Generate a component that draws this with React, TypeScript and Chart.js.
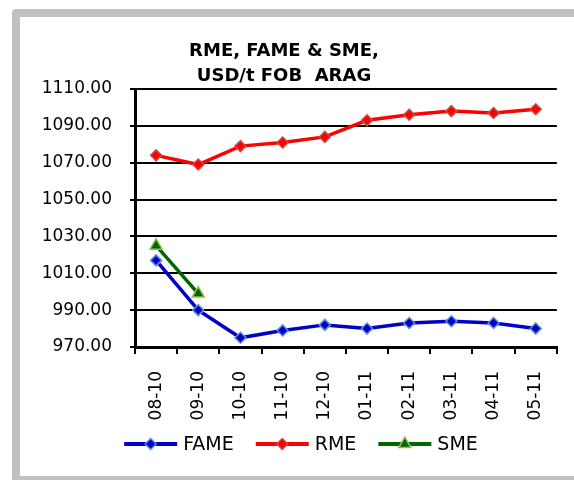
import React, { useEffect, useRef } from 'react';
import { Chart, registerables } from 'chart.js';

Chart.register(...registerables);

const categories = ['08-10', '09-10', '10-10', '11-10', '12-10', '01-11', '02-11', '03-11', '04-11', '05-11'];
const fameValues = [1017, 990, 975, 979, 982, 980, 983, 984, 983, 980];
const rmeValues = [1074, 1069, 1079, 1081, 1084, 1093, 1096, 1098, 1097, 1099];
const smeValues: (number | null)[] = [1025, 999, null, null, null, null, null, null, null, null];
const titleLines = ['RME, FAME & SME,', 'USD/t FOB  ARAG'];
const yMin = 970;
const yMax = 1110;
const yStep = 20;

const FONT = '"DejaVu Sans", sans-serif';

function drawMarker(ctx: CanvasRenderingContext2D, style: string, x: number, y: number, r: number, fill: string, stroke: string, bw: number) {
  ctx.beginPath();
  if (style === 'triangle') {
    ctx.moveTo(x, y - r);
    ctx.lineTo(x + r * Math.sin(Math.PI / 3), y + r * 0.5);
    ctx.lineTo(x - r * Math.sin(Math.PI / 3), y + r * 0.5);
  } else {
    ctx.moveTo(x, y - r);
    ctx.lineTo(x + r, y);
    ctx.lineTo(x, y + r);
    ctx.lineTo(x - r, y);
  }
  ctx.closePath();
  ctx.fillStyle = fill;
  ctx.fill();
  ctx.lineWidth = bw;
  ctx.strokeStyle = stroke;
  ctx.stroke();
}

const decorPlugin = {
  id: 'decor',
  afterDraw(chart: any) {
    const ctx: CanvasRenderingContext2D = chart.ctx;
    ctx.save();
    // title
    ctx.fillStyle = '#000';
    ctx.font = `bold 18px ${FONT}`;
    ctx.textAlign = 'center';
    ctx.textBaseline = 'alphabetic';
    const tx = 264;
    ctx.fillText(titleLines[0], tx, 39);
    ctx.fillText(titleLines[1], tx, 64);

    // legend
    ctx.font = `19px ${FONT}`;
    ctx.textBaseline = 'middle';
    ctx.textAlign = 'left';
    const lineLen = 53;
    const gapText = 6;
    const gapItem = 22;
    const items = chart.data.datasets.map((ds: any) => ({
      ds,
      w: ctx.measureText(ds.label).width,
    }));
    const total = items.reduce((s: number, it: any) => s + lineLen + gapText + it.w, 0) + gapItem * (items.length - 1);
    let x = chart.width / 2 + 4 - total / 2;
    const y = 427;
    for (const it of items) {
      const ds = it.ds;
      ctx.beginPath();
      ctx.moveTo(x, y);
      ctx.lineTo(x + lineLen, y);
      ctx.strokeStyle = ds.borderColor;
      ctx.lineWidth = 4;
      ctx.stroke();
      drawMarker(ctx, ds.pointStyle, x + lineLen / 2, y, ds.pointRadius, ds.pointBackgroundColor, ds.pointBorderColor, ds.pointBorderWidth);
      ctx.fillStyle = '#000';
      ctx.fillText(ds.label, x + lineLen + gapText, y + 1);
      x += lineLen + gapText + it.w + gapItem;
    }
    ctx.restore();
  },
};

export default function App() {
  const ref = useRef<HTMLCanvasElement>(null);

  useEffect(() => {
    if (!ref.current) return;
    const chart = new Chart(ref.current, {
      type: 'line',
      data: {
        labels: categories,
        datasets: [
          {
            label: 'FAME',
            data: fameValues,
            borderColor: '#0000c8',
            borderWidth: 3.5,
            pointStyle: 'rectRot',
            pointRadius: 5.5,
            pointBackgroundColor: '#0000c8',
            pointBorderColor: '#5b8fd0',
            pointBorderWidth: 1.5,
            tension: 0,
          },
          {
            label: 'RME',
            data: rmeValues,
            borderColor: '#ff0000',
            borderWidth: 3.5,
            pointStyle: 'rectRot',
            pointRadius: 5.5,
            pointBackgroundColor: '#ff0000',
            pointBorderColor: '#c0504d',
            pointBorderWidth: 1.5,
            tension: 0,
          },
          {
            label: 'SME',
            data: smeValues,
            borderColor: '#006600',
            borderWidth: 3.5,
            pointStyle: 'triangle',
            pointRadius: 7,
            pointBackgroundColor: '#006600',
            pointBorderColor: '#9bbb59',
            pointBorderWidth: 1.5,
            tension: 0,
            spanGaps: false,
          },
        ],
      },
      options: {
        responsive: false,
        animation: false,
        layout: { padding: { top: 72, right: 17, left: 0, bottom: 0 } },
        plugins: {
          legend: { display: false },
          title: { display: false },
          tooltip: { enabled: false },
        },
        scales: {
          x: {
            offset: true,
            afterFit: (s: any) => { s.height = 129; },
            grid: {
              offset: true,
              drawOnChartArea: false,
              drawTicks: true,
              tickLength: 7,
              color: '#000',
              lineWidth: 2,
            },
            border: { display: true, color: '#000', width: 3 },
            ticks: {
              minRotation: 90,
              maxRotation: 90,
              padding: 17,
              color: '#000',
              font: { family: FONT, size: 17 },
              autoSkip: false,
            },
          },
          y: {
            min: yMin,
            max: yMax,
            afterFit: (s: any) => { s.width = 115; },
            grid: {
              drawTicks: true,
              tickLength: 5,
              color: '#000',
              lineWidth: 2,
            },
            border: { display: true, color: '#000', width: 3 },
            ticks: {
              stepSize: yStep,
              padding: 18,
              color: '#000',
              font: { family: FONT, size: 17 },
              callback: (v: any) => Number(v).toFixed(2),
            },
          },
        },
      },
      plugins: [decorPlugin],
    });
    return () => chart.destroy();
  }, []);

  return (
    <div style={{ position: 'fixed', inset: 0, overflow: 'hidden', background: '#fff' }}>
      <div
        style={{
          position: 'absolute',
          left: 12,
          top: 9,
          width: 600,
          height: 475,
          boxSizing: 'border-box',
          border: '8px solid #c0c0c0',
          borderRadius: '4px 0 0 0',
        }}
      />
      <canvas ref={ref} width={554} height={459} style={{ position: 'absolute', left: 20, top: 17 }} />
    </div>
  );
}
